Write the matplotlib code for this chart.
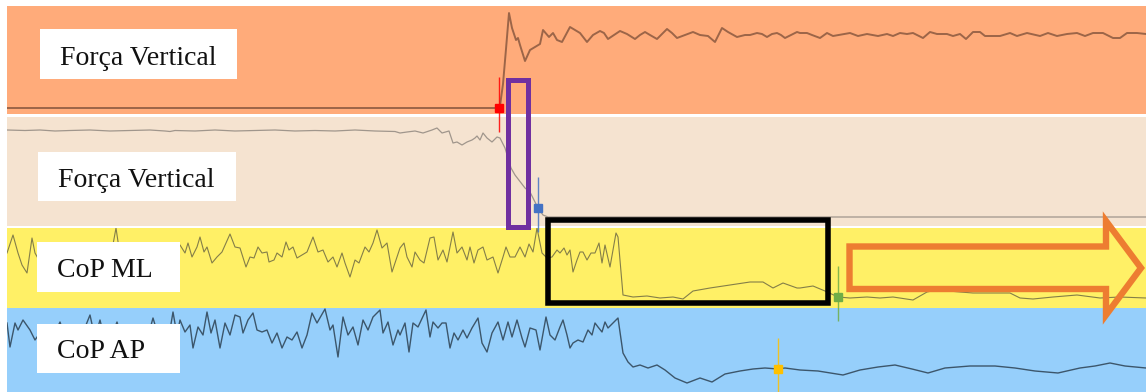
import numpy as np
import matplotlib
matplotlib.use("Agg")
import matplotlib.pyplot as plt
from matplotlib.patches import Rectangle, Polygon

# ---------------------------------------------------------------
# Signals (time in samples, amplitude in arbitrary units per band)
# ---------------------------------------------------------------
fz1_t = [7, 497, 500, 503, 506, 509, 512, 516, 518, 520, 525, 530, 535, 540, 543,
         549, 553, 557, 562, 570, 575, 580, 587, 593, 600, 604, 608, 614, 620, 627,
         635, 640, 645, 650, 657, 662, 667, 672, 677, 685, 693, 700, 708, 715, 722,
         728, 737, 745, 750, 757, 762, 767, 772, 777, 781, 785, 791, 797, 800, 807,
         812, 820, 827, 833, 850, 858, 867, 878, 887, 893, 900, 907, 913, 923, 930,
         937, 947, 953, 960, 966, 973, 980, 985, 1000, 1010, 1017, 1027, 1040, 1048,
         1057, 1067, 1077, 1085, 1093, 1103, 1113, 1120, 1127, 1137, 1146]
fz1_v = [6, 6, 8, 30, 65, 101, 86, 74, 76, 69, 53, 64, 67, 70, 84,
         77, 81, 74, 72, 87, 84, 81, 72, 79, 83, 81, 75, 79, 83, 80,
         75, 79, 82, 79, 75, 80, 85, 81, 76, 79, 82, 79, 78, 72, 86,
         82, 77, 79, 79, 81, 80, 77, 80, 81, 79, 76, 79, 82, 81, 81,
         79, 76, 81, 78, 81, 78, 80, 78, 80, 78, 81, 80, 81, 76, 82,
         80, 80, 78, 80, 75, 82, 82, 78, 78, 81, 78, 81, 78, 81,
         78, 80, 81, 78, 81, 81, 76, 76, 81, 81, 80]

fz2_t = [7, 25, 40, 55, 70, 90, 110, 130, 150, 165, 170, 175, 195, 215, 235, 255,
         275, 295, 315, 335, 355, 375, 395, 400, 407, 415, 423, 432, 437, 442, 449,
         453, 457, 462, 467, 472, 475, 477, 480, 483, 487, 492, 497, 500, 505, 511,
         515, 525, 530, 538, 543, 548, 1146]
fz2_v = [96, 95.5, 96, 95, 95.5, 96, 95, 95.5, 96, 95, 94.5, 95.5, 95, 96, 95, 95.5,
         96, 95, 95.5, 95, 96, 95, 94.5, 93, 94, 95, 93, 96, 98, 93, 95,
         83, 84, 81, 84, 86, 88, 90, 86, 93, 88, 84, 89, 88, 78, 58,
         51, 38, 34, 18, 11, 9, 9]

ml_t = [7, 13, 18, 22, 27, 32, 35, 40, 46, 52, 58, 64, 70, 76, 82, 88, 94, 100,
        106, 112, 116, 120, 126, 132, 138, 142, 148, 154, 160, 166, 172, 176,
        180, 185, 188, 192, 197, 200, 204, 207, 212, 217, 222, 230, 235, 240, 246,
        250, 254, 258, 262, 267, 269, 274, 277, 282, 286, 289, 293, 297, 302, 307,
        313, 318, 323, 328, 333, 337, 342, 345, 350, 355, 359, 365, 369, 373, 377,
        382, 387, 392, 397, 400, 404, 407, 412, 415, 420, 424, 430, 434, 438, 443,
        447, 453, 457, 462, 467, 470, 474, 478, 483, 487, 493, 498, 503, 506, 510,
        515, 520, 525, 529, 533, 537, 542, 547, 552, 557, 560, 564, 567, 570, 573,
        577, 580, 583, 587, 591, 595, 599, 602, 605, 610, 616, 618, 623, 633, 647,
        660, 673, 683, 693, 710, 730, 750, 763, 773, 783, 797, 800, 813, 825, 838,
        850, 867, 880, 893, 913, 927, 937, 960, 973, 1000, 1010, 1020, 1033, 1053,
        1077, 1100, 1120, 1146]
ml_v = [55, 73, 55, 43, 35, 70, 55, 46, 58, 40, 53, 45, 58, 38, 50, 61, 46, 56,
        42, 58, 80, 53, 46, 58, 51, 64, 46, 56, 42, 58, 50, 60,
        63, 55, 65, 51, 61, 71, 56, 61, 45, 51, 56, 74, 61, 60, 41,
        51, 50, 61, 55, 56, 46, 48, 55, 51, 66, 58, 61, 50, 53, 56,
        71, 56, 58, 46, 51, 41, 55, 45, 31, 48, 45, 61, 56, 65, 78,
        60, 65, 36, 51, 60, 65, 51, 41, 56, 48, 45, 70, 71, 48, 58,
        46, 76, 55, 61, 48, 61, 45, 58, 61, 48, 51, 35, 51, 61, 51,
        51, 61, 51, 64, 56, 80, 55, 50, 51, 58, 55, 60, 53, 58, 36,
        48, 56, 56, 48, 55, 55, 65, 45, 63, 41, 75, 71, 13, 11, 12,
        10, 11, 9, 17, 20, 23, 26, 26, 20, 25, 20, 20, 22, 17, 11,
        10, 11, 10, 11, 8, 16, 18, 16, 15, 15, 15, 10, 9, 11,
        13, 10, 11, 10]

ap_t = [7, 10, 15, 18, 23, 30, 35, 42, 48, 54, 60, 66, 72, 78, 84, 90, 95, 100,
        106, 112, 117, 123, 129, 135, 141, 147, 153, 159, 165, 170, 173, 177,
        180, 185, 190, 193, 198, 203, 207, 211, 215, 220, 225, 230, 235, 240, 243,
        248, 253, 257, 262, 267, 272, 277, 282, 287, 292, 297, 302, 307, 312, 317,
        325, 330, 333, 338, 343, 348, 353, 358, 363, 368, 373, 380, 383, 388, 393,
        398, 400, 405, 409, 413, 418, 426, 430, 433, 438, 442, 446, 450, 454, 458,
        463, 467, 472, 478, 482, 487, 492, 498, 503, 508, 512, 517, 522, 525, 530,
        536, 540, 546, 550, 555, 560, 563, 567, 570, 573, 578, 583, 588, 592, 595,
        598, 602, 605, 608, 613, 618, 623, 628, 633, 640, 648, 657, 665, 675, 687,
        700, 712, 725, 740, 753, 765, 778, 785, 800, 818, 843, 860, 878, 895, 912,
        928, 945, 970, 995, 1015, 1035, 1058, 1080, 1095, 1110, 1125, 1146]
ap_v = [69, 45, 69, 62, 72, 62, 52, 62, 47, 57, 70, 52, 60, 42, 62, 77, 54, 72,
        47, 57, 70, 50, 62, 42, 60, 52, 74, 54, 47, 62, 80, 57,
        72, 60, 67, 44, 65, 57, 80, 59, 72, 44, 69, 57, 77, 75, 59,
        72, 79, 62, 60, 62, 49, 59, 44, 55, 52, 60, 44, 57, 79, 69,
        83, 62, 67, 35, 75, 57, 65, 47, 72, 62, 75, 82, 59, 70, 47,
        62, 57, 69, 40, 69, 65, 82, 55, 70, 64, 69, 69, 44, 59, 52,
        62, 54, 64, 74, 49, 40, 59, 70, 52, 70, 55, 72, 54, 45, 64,
        62, 42, 75, 57, 52, 65, 72, 57, 44, 49, 52, 50, 62, 57, 69,
        65, 60, 70, 64, 69, 74, 39, 30, 25, 27, 24, 27, 22, 14, 9,
        14, 10, 18, 21, 23, 24, 23, 24, 22, 21, 17, 22, 25, 27, 23,
        19, 24, 26, 26, 24, 21, 19, 24, 26, 29, 26, 24]

# Event markers: time, amplitude on the signal they belong to
event_t = [499, 538, 838, 778]
event_v = [6, 18, 11, 23]
event_colors = ["#ff0000", "#4472c4", "#70ad47", "#ffc000"]

labels = ["Força Vertical", "Força Vertical", "CoP ML", "CoP AP"]

# ---------------------------------------------------------------
W, H = 1146, 392
fig = plt.figure(figsize=(W / 100, H / 100), dpi=100)
fig.patch.set_facecolor("white")


def band_axes(top, bottom, color):
    ax = fig.add_axes([7 / W, (H - bottom) / H, (W - 7) / W, (bottom - top) / H])
    ax.set_facecolor(color)
    ax.set_xlim(7, W)
    ax.set_ylim(0, bottom - top)
    for s in ax.spines.values():
        s.set_visible(False)
    ax.tick_params(left=False, bottom=False, labelleft=False, labelbottom=False)
    return ax


ax_fz1 = band_axes(6, 114, "#ffab7a")
ax_fz2 = band_axes(116.5, 226, "#f5e3d0")
ax_ml = band_axes(227.5, 308, "#fff066")
ax_ap = band_axes(308, 392, "#96cffb")

ax_fz1.plot(fz1_t, fz1_v, color="#9c6548", lw=1.4)
ax_fz2.plot(fz2_t, fz2_v, color="#a0968c", lw=0.9)
ax_ml.plot(ml_t, ml_v, color="#847e48", lw=0.8)
ax_ap.plot(ap_t, ap_v, color="#3c566b", lw=1.0)

# Overlay for annotations, in figure pixel units
ov = fig.add_axes([0, 0, 1, 1])
ov.set_xlim(0, W)
ov.set_ylim(H, 0)
ov.axis("off")

# event markers
for ax, t, v, c in zip([ax_fz1, ax_fz2, ax_ml, ax_ap], event_t, event_v, event_colors):
    disp = ax.transData.transform((t, v))
    x, y = ov.transData.inverted().transform(disp)
    ov.plot([x, x], [y - 31, y + 24], color=c, lw=1.0, alpha=0.85, solid_capstyle="butt")
    ov.plot([x], [y], marker="s", ms=5.5, color=c, mec=c)

# label boxes
boxes = [(40, 29, 197, 50, 65), (38, 152, 198, 49, 187),
         (37, 242, 143, 50, 277), (37, 324, 143, 49, 358)]
for (bx, by, bw, bh, base), txt in zip(boxes, labels):
    ov.add_patch(Rectangle((bx, by), bw, bh, facecolor="white", edgecolor="none", zorder=5))
    ov.text(bx + 20, base, txt, fontsize=20.1, family="Liberation Serif",
            color="#111111", va="baseline", ha="left", zorder=6)

# highlight frames
ov.add_patch(Rectangle((507.5, 79.5), 20, 147, fill=False, edgecolor="#7030a0",
                       lw=3.6, joinstyle="miter", zorder=7))
ov.add_patch(Rectangle((547.75, 219.75), 280.5, 83.5, fill=False, edgecolor="black",
                       lw=4.0, joinstyle="miter", zorder=7))

# outlined arrow
arrow = Polygon([(849.5, 246.5), (1106, 246.5), (1106, 221), (1141, 268),
                 (1106, 315), (1106, 289), (849.5, 289)], closed=True,
                fill=False, edgecolor="#ed7d31", lw=4.6, joinstyle="miter", zorder=7)
ov.add_patch(arrow)

fig.savefig("out.png", dpi=100)
